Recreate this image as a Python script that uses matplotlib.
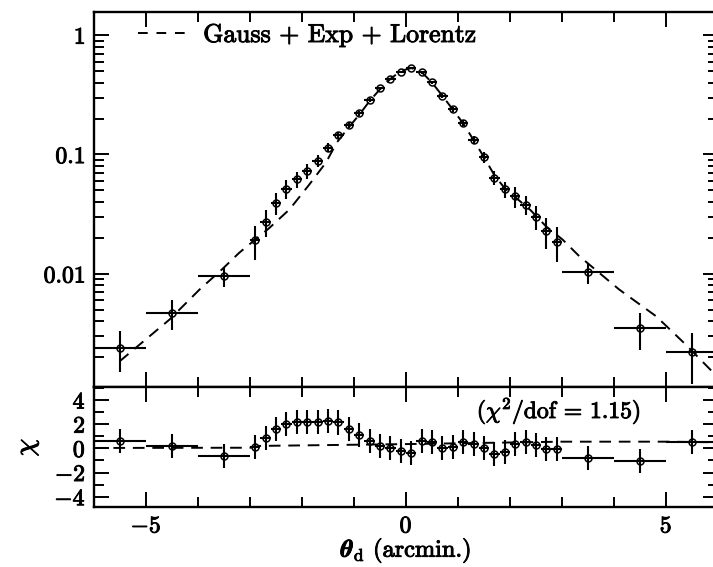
import numpy as np
import matplotlib.pyplot as plt
import matplotlib.patheffects as pe
from matplotlib.lines import Line2D
from matplotlib.text import Text
from matplotlib.ticker import FixedLocator, FixedFormatter, LogLocator, MultipleLocator, NullFormatter

plt.rcParams['font.family'] = 'cmr10'
plt.rcParams['mathtext.fontset'] = 'cm'
plt.rcParams['axes.formatter.use_mathtext'] = True

# wide outer bins (0.5 arcmin half-width)
wide_x = [-5.5, -4.5, -3.5, 3.5, 4.5, 5.5]
wide_y = [0.0024, 0.0047, 0.0096, 0.0103, 0.0035, 0.0022]
wide_yerr = [0.0009, 0.0013, 0.0019, 0.0021, 0.0012, 0.0010]
wide_res = [0.6, 0.19, -0.64, -0.78, -1.02, 0.5]

# narrow central bins (0.1 arcmin half-width)
dense_x = [-2.9, -2.7, -2.5, -2.3, -2.1, -1.9, -1.7, -1.5, -1.3, -1.1,
           -0.9, -0.7, -0.5, -0.3, -0.1, 0.1, 0.3, 0.5, 0.7, 0.9,
           1.1, 1.3, 1.5, 1.7, 1.9, 2.1, 2.3, 2.5, 2.7, 2.9]
dense_y = [0.0191, 0.0272, 0.0395, 0.0518, 0.0619, 0.0727, 0.0889, 0.114, 0.145, 0.176,
           0.222, 0.285, 0.357, 0.428, 0.492, 0.526, 0.486, 0.401, 0.310, 0.239,
           0.183, 0.132, 0.0946, 0.064, 0.051, 0.0449, 0.038, 0.0301, 0.0228, 0.0185]
dense_yerr = [0.006, 0.007, 0.0085, 0.0095, 0.0095, 0.01, 0.01, 0.01, 0.01, 0.01,
              0.01, 0.01, 0.01, 0.01, 0.01, 0.01, 0.01, 0.01, 0.01, 0.01,
              0.01, 0.01, 0.01, 0.009, 0.008, 0.009, 0.0067, 0.0068, 0.0065, 0.006]
dense_res = [0.13, 0.83, 1.6, 2.03, 2.2, 2.2, 2.2, 2.25, 2.14, 1.57,
             1.1, 0.6, 0.19, 0.0, -0.22, -0.41, 0.6, 0.5, 0.0, 0.1,
             0.5, 0.38, 0.05, -0.44, -0.28, 0.36, 0.5, 0.27, -0.06, -0.06]

# Gauss + Exp + Lorentz model
model_x = [-5.51, -4.55, -3.97, -3.53, -3.21, -2.63, -2.24, -1.86, -1.54, -1.33,
           -1.12, -0.9, -0.7, -0.5, -0.3, -0.1, 0.1, 0.3, 0.5, 0.7,
           0.9, 1.1, 1.3, 1.5, 1.7, 1.9, 2.1, 2.4, 2.69, 3.01,
           3.33, 4.10, 4.81, 5.38, 5.89]
model_y = [0.00185, 0.00414, 0.0074, 0.0110, 0.0150, 0.0242, 0.0347, 0.056, 0.0855, 0.126,
           0.165, 0.215, 0.28, 0.352, 0.43, 0.50, 0.53, 0.49, 0.40, 0.31,
           0.238, 0.182, 0.132, 0.095, 0.067, 0.052, 0.044, 0.034, 0.0251, 0.0194,
           0.0141, 0.0074, 0.00442, 0.00256, 0.00152]
model_res_x = [-6.0, -3.0, -2.8, 0.0, 3.0, 5.0, 6.0]
model_res_y = [0.03, 0.05, 0.2, 0.35, 0.55, 0.55, 0.5]

dash = (0, (6, 4))
ebkw = dict(fmt='o', ms=5, mfc='none', mec='k', mew=1.1, color='k',
            ecolor='k', elinewidth=1.5, capsize=0)

fig = plt.figure(figsize=(7.13, 5.67), dpi=100)
ax1 = fig.add_axes([94/713, 180/567, 624/713, 375/567])
ax2 = fig.add_axes([94/713, 60/567, 624/713, 120/567], sharex=ax1)

# top panel
ax1.plot(model_x, model_y, 'k', ls=dash, lw=1.4)
ax1.errorbar(wide_x, wide_y, xerr=0.5, yerr=wide_yerr, **ebkw)
ax1.errorbar(dense_x, dense_y, xerr=0.1, yerr=dense_yerr, **ebkw)
ax1.set_yscale('log')
ax1.set_ylim(0.00113, 1.56)
ax1.set_xlim(-6, 6)
ax1.yaxis.set_major_locator(FixedLocator([0.01, 0.1, 1]))
ax1.yaxis.set_major_formatter(FixedFormatter(['0.01', '0.1', '1']))
ax1.yaxis.set_minor_locator(LogLocator(base=10, subs=np.arange(2, 10)))
ax1.yaxis.set_minor_formatter(NullFormatter())
ax1.tick_params(labelbottom=False)
key = Line2D([], [], color='k', lw=1.4, ls=(0, (5, 4.5)))
ax1.legend([key], ['Gauss + Exp + Lorentz'], loc='upper left',
           bbox_to_anchor=(0.07, 0.97), frameon=False,
           fontsize=18.5, handlelength=2.1, handletextpad=0.45,
           borderpad=0, borderaxespad=0)

# residual panel
ax2.plot(model_res_x, model_res_y, 'k', ls=dash, lw=1.4)
ax2.errorbar(wide_x, wide_res, xerr=0.5, yerr=1.0, **ebkw)
ax2.errorbar(dense_x, dense_res, xerr=0.1, yerr=1.0, **ebkw)
ax2.set_ylim(-4.85, 5.07)
ax2.yaxis.set_major_locator(MultipleLocator(2))
ax2.yaxis.set_minor_locator(MultipleLocator(1))
ax2.set_ylabel(r'$\chi$', fontsize=20, labelpad=10)
ax2.set_xlabel(r'$\boldsymbol{\theta}_{\rm d}$ (arcmin.)', fontsize=17.5, labelpad=-1)
ax2.text(0.745, 0.80, r'($\chi^2$/dof = 1.15)', transform=ax2.transAxes,
         ha='center', va='center', fontsize=17)

for ax in (ax1, ax2):
    ax.xaxis.set_major_locator(MultipleLocator(5))
    ax.xaxis.set_minor_locator(MultipleLocator(1))
    ax.tick_params(which='both', direction='in', top=True, right=True,
                   width=1.4, labelsize=17)
    ax.tick_params(which='major', length=11, pad=6)
    ax.tick_params(which='minor', length=7)
    for s in ax.spines.values():
        s.set_linewidth(1.7)

# heavier strokes on the text, like the scanned print
fig.canvas.draw()
for t in fig.findobj(Text):
    t.set_path_effects([pe.withStroke(linewidth=0.7, foreground='k')])

fig.savefig('out.png', dpi=100)
